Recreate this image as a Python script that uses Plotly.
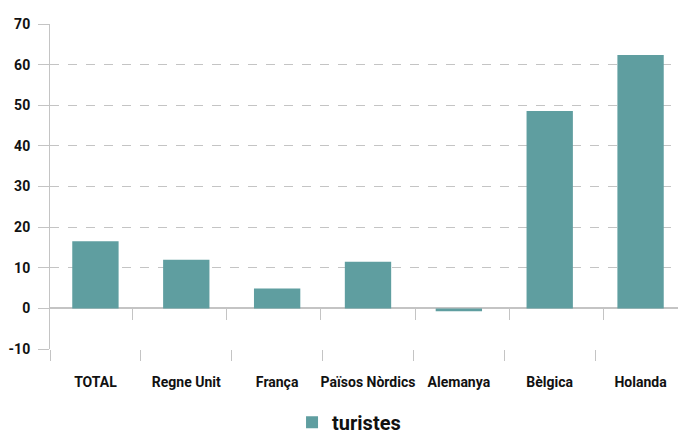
import plotly.graph_objects as go

paisos = ['TOTAL', 'Regne Unit', 'França', 'Països Nòrdics', 'Alemanya', 'Bèlgica', 'Holanda']
turistes = [16.5, 12.0, 4.9, 11.5, -0.7, 48.6, 62.4]
y_ticks = [-10, 0, 10, 20, 30, 40, 50, 60, 70]

FONT = 'Roboto, Liberation Sans Narrow, sans-serif'
GRIS = '#c4c4c4'

trace0 = go.Bar(x=paisos, y=turistes, name='turistes',
                marker=dict(color='#5f9ea0', line=dict(width=0)),
                )

# eix fantasma per dibuixar les marques a l'altura del zero
trace_zero = go.Scatter(x=paisos, y=turistes, xaxis='x2', mode='markers',
                        marker=dict(opacity=0), showlegend=False, hoverinfo='skip')

# la pàgina ja afegeix 8px de marge, per això la figura és una mica més petita
layout = go.Layout(
    width=678,
    height=427,
    margin=dict(l=42, r=0, t=16, b=86, autoexpand=False),
    paper_bgcolor='white',
    plot_bgcolor='white',
    bargap=0.49,
    font=dict(family=FONT, color='#111111', size=14),
    showlegend=True,
    legend=dict(
        orientation='h',
        xref='container', yref='container',
        x=0.503, xanchor='center',
        y=0.03, yanchor='middle',
        font=dict(size=20, weight='bold'),
    ),
    xaxis=dict(
        tickson='boundaries', tickangle=0, automargin=False,
        ticks='outside', ticklen=11, tickcolor=GRIS, tickwidth=1,
        showgrid=False, showline=False, zeroline=False,
        tickfont=dict(size=14, weight='bold'),
        ticklabelstandoff=23,
        fixedrange=True,
    ),
    xaxis2=dict(
        overlaying='x', anchor='free', position=0.125,
        tickson='boundaries',
        ticks='outside', ticklen=11, tickcolor=GRIS, tickwidth=1,
        showticklabels=False, showgrid=False, showline=False, zeroline=False,
    ),
    yaxis=dict(
        range=[-10, 70], automargin=False,
        tickvals=y_ticks, ticktext=[str(v) for v in y_ticks],
        ticks='outside', ticklen=11, tickcolor=GRIS, tickwidth=1,
        showline=True, linecolor=GRIS, linewidth=1,
        showgrid=True, gridcolor=GRIS, griddash='dash', gridwidth=1,
        zeroline=True, zerolinecolor=GRIS, zerolinewidth=1.5,
        tickfont=dict(size=14, weight='bold'),
        ticklabelstandoff=5,
    ),
)

fig = go.Figure(data=[trace0, trace_zero], layout=layout)
fig.write_html("out.html")
